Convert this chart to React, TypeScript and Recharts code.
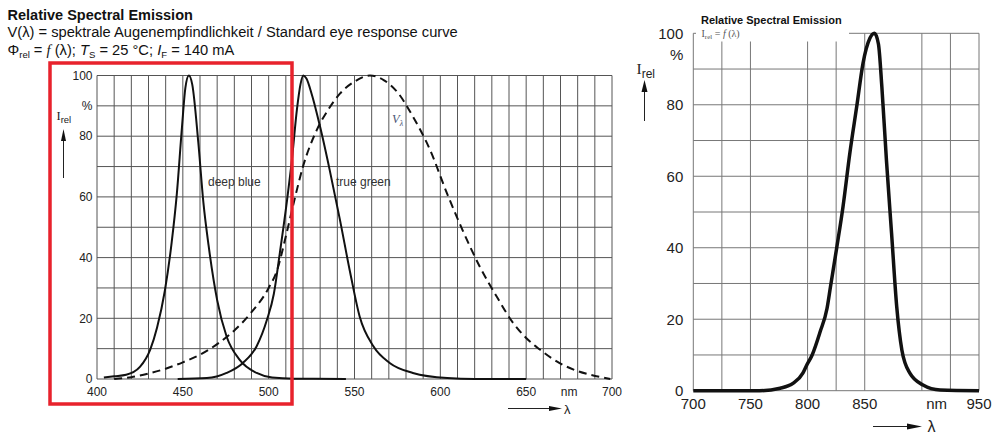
import React from "react";
import { LineChart, Line, XAxis, YAxis, CartesianGrid } from "recharts";

// Visible LEDs: wavelength (nm) and relative intensity (%)
const DEEP_BLUE_NM = [404, 410, 417, 425, 431, 435, 439.5, 443.5, 446.5, 449.5, 451.5, 453.5, 455.5, 459, 462, 465, 470, 475.5, 483, 493, 502, 515, 545];
const DEEP_BLUE_REL = [0.5, 0.9, 1.4, 4, 9.7, 17, 29, 45, 61, 83, 96, 100, 97, 78, 58, 44, 26, 14, 6.4, 2, 0.5, 0.1, 0];

const TRUE_GREEN_NM = [447, 464, 475.5, 485, 493, 499, 503, 506.5, 510.5, 513.5, 516.5, 518.5, 520.2, 522, 525, 530, 535.5, 541.5, 547.5, 553, 561, 570.5, 584, 604, 620, 650];
const TRUE_GREEN_REL = [0, 0.3, 2, 5.3, 10.8, 19.5, 28, 41.5, 58, 72, 89, 97, 100, 99, 94, 83, 69, 52.5, 35, 20.6, 10.8, 5.3, 2, 0.3, 0, 0];

// eye response curve V(lambda)
const V_LAMBDA_NM = [410, 420, 430, 440, 450, 460, 470, 480, 490, 500, 505, 510, 515, 520, 528, 535, 541.5, 550, 559, 567, 575, 584, 594, 604, 613, 623, 633, 642.5, 650, 658, 665, 672, 680, 688, 699];
const V_LAMBDA_REL = [0, 0.6, 1.8, 3.4, 5.5, 8, 11.5, 16, 22, 30, 36, 47, 59, 70, 82, 89, 94, 98, 100, 98.5, 94.5, 86.5, 75.5, 61, 49, 37, 27, 18.4, 13.5, 9.7, 6.8, 4.5, 2.6, 1.3, 0];

// infrared emitter
const IR_NM = [700, 758, 776, 787.5, 796, 799, 804, 811, 817, 820, 825.5, 831, 837, 843, 848.5, 854.5, 858.5, 862, 865, 869, 873.5, 878, 882.5, 889.5, 901, 916, 950];
const IR_REL = [0, 0, 0.7, 2.1, 5, 7, 10, 16.5, 23, 29, 40, 51.5, 66.5, 79.5, 91.6, 98.6, 100, 97, 85, 64.5, 44, 23.5, 11.4, 4.9, 1.6, 0.2, 0];

const VIS_X_TICKS = [400, 450, 500, 550, 600, 650, 675, 700];
const VIS_Y_TICKS = [0, 20, 40, 60, 80, 90, 100];
const VIS_GRID_X = Array.from({ length: 31 }, (_, i) => 400 + i * 10);
const IR_X_TICKS = [700, 750, 800, 850, 913, 950];
const IR_Y_TICKS = [0, 20, 40, 60, 80, 94, 100];
const IR_GRID_X = [700, 725, 750, 800, 825, 850, 900, 925, 950];
const GRID_Y = Array.from({ length: 11 }, (_, i) => i * 10);

const SANS = "'Liberation Sans', Arial, Helvetica, sans-serif";
const SERIF = "'Liberation Serif', 'Times New Roman', serif";

const toPoints = (nm: number[], rel: number[]) =>
  nm.map((x, i) => ({ nm: x, rel: rel[i] }));

const deepBlue = toPoints(DEEP_BLUE_NM, DEEP_BLUE_REL);
const trueGreen = toPoints(TRUE_GREEN_NM, TRUE_GREEN_REL);
const vLambda = toPoints(V_LAMBDA_NM, V_LAMBDA_REL);
const infrared = toPoints(IR_NM, IR_REL);

function VisibleChart() {
  return (
    <LineChart width={640} height={434} margin={{ top: 75.5, right: 28, bottom: 25, left: 57 }}>
      <CartesianGrid stroke="#555" verticalValues={VIS_GRID_X} horizontalValues={GRID_Y} />
      <XAxis
        type="number"
        dataKey="nm"
        domain={[400, 700]}
        ticks={VIS_X_TICKS}
        interval={0}
        tickFormatter={(v: number) => (v === 675 ? "nm" : String(v))}
        axisLine={false}
        tickLine={false}
        tickSize={0}
        tickMargin={8.5}
        height={30}
        tick={{ fontSize: 12, fill: "#222", fontFamily: SANS }}
      />
      <YAxis
        type="number"
        domain={[0, 100]}
        ticks={VIS_Y_TICKS}
        interval={0}
        tickFormatter={(v: number) => (v === 90 ? "%" : String(v))}
        axisLine={false}
        tickLine={false}
        tickSize={0}
        tickMargin={4.5}
        width={40}
        tick={{ fontSize: 12, fill: "#222", fontFamily: SANS }}
      />
      <Line data={vLambda} dataKey="rel" type="monotone" stroke="#111" strokeWidth={2} strokeDasharray="8 5" dot={false} isAnimationActive={false} />
      <Line data={deepBlue} dataKey="rel" type="monotone" stroke="#111" strokeWidth={2} dot={false} isAnimationActive={false} />
      <Line data={trueGreen} dataKey="rel" type="monotone" stroke="#111" strokeWidth={2} dot={false} isAnimationActive={false} />
    </LineChart>
  );
}

function InfraredChart() {
  return (
    <LineChart width={379} height={434} margin={{ top: 33.3, right: 20, bottom: 13.3, left: 33.3 }}>
      <CartesianGrid stroke="#777" verticalValues={IR_GRID_X} horizontalValues={GRID_Y} />
      <XAxis
        type="number"
        dataKey="nm"
        domain={[700, 950]}
        ticks={IR_X_TICKS}
        interval={0}
        tickFormatter={(v: number) => (v === 913 ? "nm" : String(v))}
        axisLine={false}
        tickLine={false}
        tickSize={0}
        tickMargin={8}
        height={30}
        tick={{ fontSize: 15, fill: "#222", fontFamily: SANS }}
      />
      <YAxis
        type="number"
        domain={[0, 100]}
        ticks={IR_Y_TICKS}
        interval={0}
        tickFormatter={(v: number) => (v === 94 ? "%" : String(v))}
        axisLine={false}
        tickLine={false}
        tickSize={0}
        tickMargin={10}
        width={40}
        tick={{ fontSize: 15, fill: "#222", fontFamily: SANS }}
      />
      <Line data={infrared} dataKey="rel" type="monotone" stroke="#111" strokeWidth={3.5} dot={false} isAnimationActive={false} />
    </LineChart>
  );
}

function Annotations() {
  return (
    <svg width={999} height={434} style={{ position: "absolute", left: 0, top: 0, pointerEvents: "none" }}>
      <g fontFamily={SANS} fill="#111">
        <text x={7.5} y={19.5} fontSize={14.5} fontWeight="bold">Relative Spectral Emission</text>
        <text x={7.5} y={37} fontSize={14.7}>V(λ) = spektrale Augenempfindlichkeit / Standard eye response curve</text>
        <text x={7.5} y={55} fontSize={14.7}>
          Φ<tspan fontSize={9.5} dy={3}>rel</tspan>
          <tspan dy={-3}> = </tspan>
          <tspan fontFamily={SERIF} fontStyle="italic">f</tspan>
          <tspan> (λ); </tspan>
          <tspan fontStyle="italic">T</tspan>
          <tspan fontSize={9.5} dy={3}>S</tspan>
          <tspan dy={-3}> = 25 °C; </tspan>
          <tspan fontStyle="italic">I</tspan>
          <tspan fontSize={9.5} dy={3}>F</tspan>
          <tspan dy={-3}> = 140 mA</tspan>
        </text>
      </g>

      {/* curve labels, left panel */}
      <g fontFamily={SANS} fontSize={12} fill="#333">
        <text x={208} y={186}>deep blue</text>
        <text x={336} y={186}>true green</text>
      </g>
      <text x={392} y={123} fontFamily={SERIF} fontStyle="italic" fontSize={12.5} fill="#4a5675">
        V<tspan fontSize={8} dy={2.5}>λ</tspan>
      </text>

      {/* axis captions, left panel */}
      <text x={56.5} y={120} fontFamily={SERIF} fontSize={12.5} fill="#222">
        I<tspan fontFamily={SANS} fontSize={9.5} dy={3}>rel</tspan>
      </text>
      <line x1={63.5} y1={178} x2={63.5} y2={139} stroke="#222" strokeWidth={1} />
      <polygon points="61,141 63.5,129 66,141" fill="#111" />
      <line x1={508} y1={408.5} x2={551} y2={408.5} stroke="#222" strokeWidth={1} />
      <polygon points="549,406 562,408.5 549,411" fill="#111" />
      <text x={564} y={413.5} fontFamily={SANS} fontSize={13} fill="#222">λ</text>

      {/* right panel captions */}
      <rect x={696} y={26} width={153} height={15.5} fill="#fff" />
      <text x={701} y={23.5} fontFamily={SANS} fontSize={11} fontWeight="bold" fill="#111">Relative Spectral Emission</text>
      <text x={701.5} y={37} fontFamily={SERIF} fontSize={10} fill="#555">
        I<tspan fontSize={7} dy={2}>rel</tspan>
        <tspan dy={-2}> = </tspan>
        <tspan fontStyle="italic">f</tspan>
        <tspan> (λ)</tspan>
      </text>
      <text x={636.5} y={74} fontFamily={SERIF} fontSize={15.5} fill="#222">
        I<tspan fontFamily={SANS} fontSize={12} dy={3.5}>rel</tspan>
      </text>
      <line x1={644.5} y1={121} x2={644.5} y2={90} stroke="#222" strokeWidth={1} />
      <polygon points="641.5,92 644.5,80 647.5,92" fill="#111" />
      <line x1={873} y1={426.5} x2={910} y2={426.5} stroke="#222" strokeWidth={1} />
      <polygon points="907,423.5 922,426.5 907,429.5" fill="#111" />
      <text x={927.5} y={432} fontFamily={SANS} fontSize={16} fill="#222">λ</text>

      {/* highlight frame */}
      <rect x={50} y={63} width={242} height={341} fill="none" stroke="#e8222c" strokeWidth={3.5} />
    </svg>
  );
}

export default function App() {
  return (
    <div style={{ position: "absolute", left: 0, top: 0, width: 999, height: 434, background: "#fff", overflow: "hidden" }}>
      <div style={{ position: "absolute", left: 0, top: 0 }}>
        <VisibleChart />
      </div>
      <div style={{ position: "absolute", left: 620, top: 0 }}>
        <InfraredChart />
      </div>
      <Annotations />
    </div>
  );
}
